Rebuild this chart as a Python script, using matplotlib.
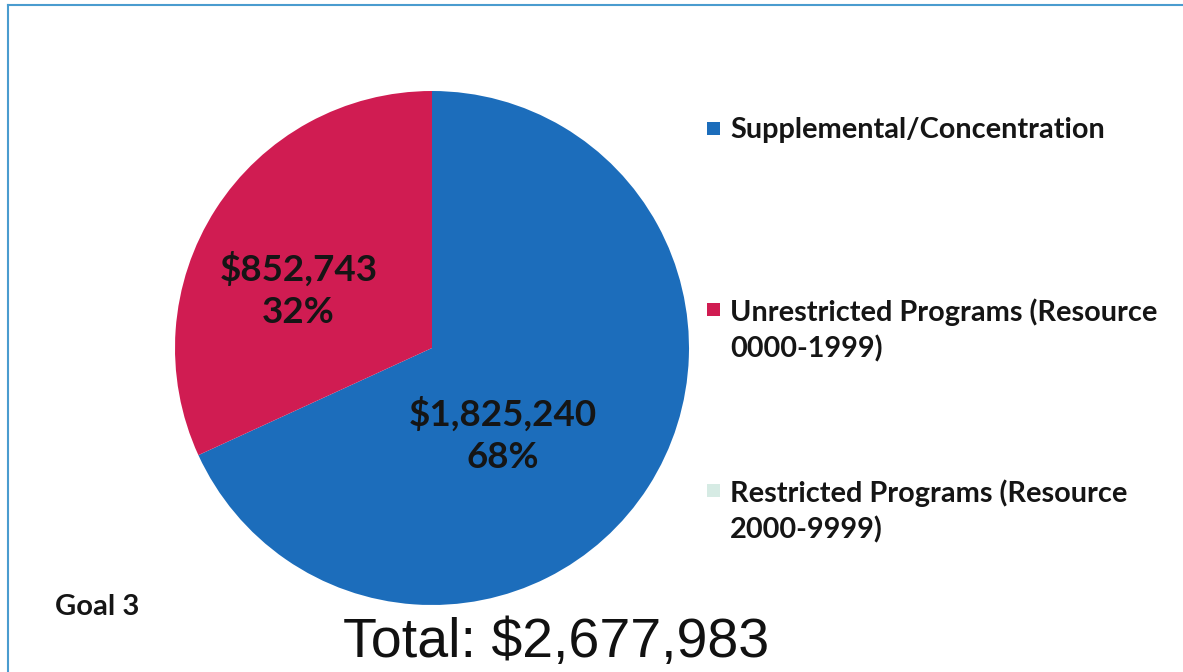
import matplotlib.pyplot as plt
from matplotlib.patches import Rectangle
from matplotlib.lines import Line2D

# Data
categories = ["Supplemental/Concentration",
              "Unrestricted Programs (Resource\n0000-1999)",
              "Restricted Programs (Resource\n2000-9999)"]
amounts = [1825240, 852743, 0]
colors = ["#1c6dbb", "#d01c52", "#d6ebe4"]
total_label = "Total: $2,677,983"

W, H = 1183, 672
fig = plt.figure(figsize=(W / 100, H / 100), dpi=100)

# pie centred at (432, 348) px, radius ~257 px
cx, cy, r = 432, 348, 257
ax = fig.add_axes([(cx - r) / W, (H - cy - r) / H, 2 * r / W, 2 * r / H])
wedges, _ = ax.pie(amounts, colors=colors, startangle=90, counterclock=False,
                   radius=1.0, wedgeprops=dict(linewidth=0))
ax.set_xlim(-1, 1)
ax.set_ylim(-1, 1)
ax.set_aspect("auto")

total = sum(amounts)
label_pos = [(0.275, -0.34), (-0.52, 0.225)]
for amt, (x, y) in zip(amounts, label_pos):
    if amt == 0:
        continue
    ax.text(x, y, "${:,}\n{:.0f}%".format(amt, 100 * amt / total),
            ha="center", va="center", fontsize=26.5, fontweight="bold",
            family="Lato", color="#151515", linespacing=1.37)

# legend drawn by hand so the swatch sits on the first line
legend_y = [128, 309, 490]
for lab, col, y in zip(categories, colors, legend_y):
    fig.patches.append(Rectangle((707 / W, 1 - (y + 7) / H), 13 / W, 13 / H,
                                 transform=fig.transFigure, facecolor=col,
                                 edgecolor="none"))
    fig.text(730 / W, 1 - (y - 11) / H, lab, ha="left", va="top",
             fontsize=20.8, fontweight="bold", family="Lato",
             color="#151515", linespacing=1.42)

fig.text(55 / W, 1 - 615 / H, "Goal 3", ha="left", va="baseline",
         fontsize=21, fontweight="bold", family="Lato", color="#151515")
fig.text(556 / W, 1 - 657 / H, total_label, ha="center", va="baseline",
         fontsize=40, family="Liberation Sans", color="#111111")

# chart frame
fig.add_artist(Line2D([8 / W, 1], [1 - 5 / H, 1 - 5 / H], color="#4a9ccf",
                      lw=1.5, transform=fig.transFigure))
fig.add_artist(Line2D([8 / W, 8 / W], [0, 1 - 5 / H], color="#4a9ccf",
                      lw=1.5, transform=fig.transFigure))

fig.savefig("out.png", dpi=100)
